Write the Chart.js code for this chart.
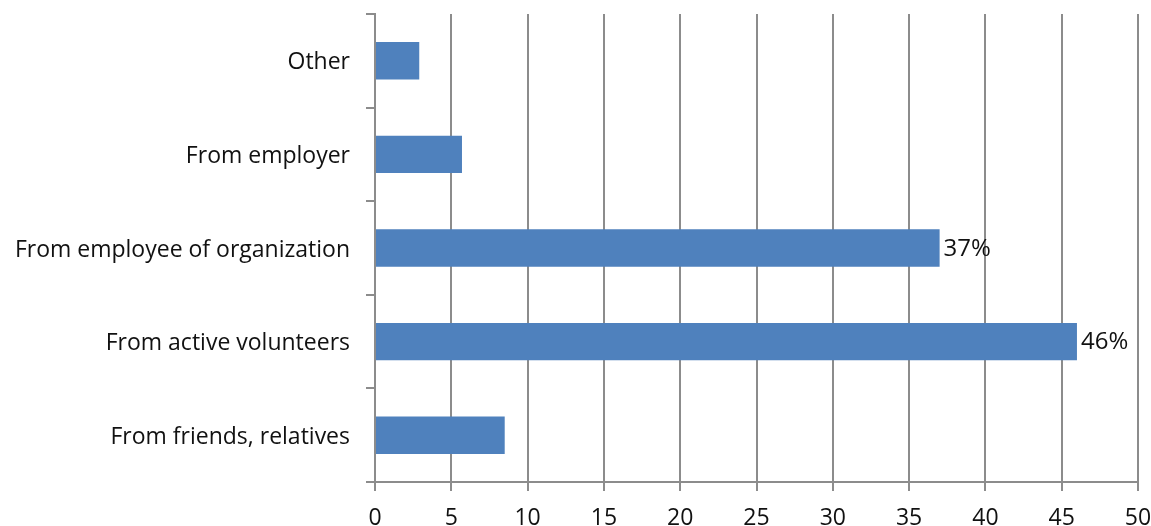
<!DOCTYPE html>
<html>
<head>
<meta charset="utf-8">
<script src="https://cdn.jsdelivr.net/npm/chart.js@4"></script>
<style>
  html, body { margin: 0; padding: 0; background: #fff; }
  #wrap { width: 1151px; height: 526px; }
</style>
</head>
<body>
<div id="wrap"><canvas id="sourceChart" width="1151" height="526"></canvas></div>
<script>
// How people heard about the organization (%)
const categories = [
    "Other",
    "From employer",
    "From employee of organization",
    "From active volunteers",
    "From friends, relatives"
];
const shares = [2.9, 5.7, 37, 46, 8.5];
const shareLabels = ["", "", "37%", "46%", ""];
const xTicks = [0, 5, 10, 15, 20, 25, 30, 35, 40, 45, 50];

const FONT = "'Open Sans', sans-serif";
const GRID = "#8c8c8c";

// Write the percentage just past the end of the labelled bars
const barValueLabels = {
    id: 'barValueLabels',
    afterDatasetsDraw(chart) {
        const ctx = chart.ctx;
        const meta = chart.getDatasetMeta(0);
        ctx.save();
        ctx.font = `24px ${FONT}`;
        ctx.fillStyle = '#111';
        ctx.textBaseline = 'middle';
        ctx.textAlign = 'left';
        meta.data.forEach((bar, i) => {
            if (!shareLabels[i]) return;
            ctx.fillText(shareLabels[i], bar.x + 4, bar.y + 1);
        });
        ctx.restore();
    }
};

const ctx = document.getElementById('sourceChart').getContext('2d');
new Chart(ctx, {
    type: 'bar',
    data: {
        labels: categories,
        datasets: [{
            data: shares,
            backgroundColor: '#4f81bd',
            borderWidth: 0,
            barPercentage: 0.8,
            categoryPercentage: 0.5
        }]
    },
    options: {
        indexAxis: 'y',
        responsive: false,
        animation: false,
        layout: { padding: { top: 14, right: 13, left: 0, bottom: 0 } },
        plugins: {
            legend: { display: false },
            tooltip: { enabled: false }
        },
        scales: {
            x: {
                min: 0,
                max: 50,
                afterBuildTicks: axis => { axis.ticks = xTicks.map(v => ({ value: v })); },
                afterFit: axis => {
                    axis.height = 44;
                    axis.paddingLeft = 0;
                    axis.paddingRight = 0;
                },
                grid: { color: GRID, lineWidth: 2, tickLength: 9 },
                border: { color: GRID, width: 2 },
                ticks: {
                    color: '#111',
                    font: { family: FONT, size: 23 },
                    padding: 14
                }
            },
            y: {
                offset: true,
                afterFit: axis => {
                    axis.width = 375;
                    axis.paddingTop = 0;
                    axis.paddingBottom = 0;
                },
                grid: { offset: true, drawOnChartArea: false, color: GRID, lineWidth: 2, tickLength: 9 },
                border: { color: GRID, width: 2 },
                ticks: {
                    color: '#111',
                    font: { family: FONT, size: 23 },
                    padding: 16,
                    labelOffset: 2
                }
            }
        }
    },
    plugins: [barValueLabels]
});
</script>
</body>
</html>
